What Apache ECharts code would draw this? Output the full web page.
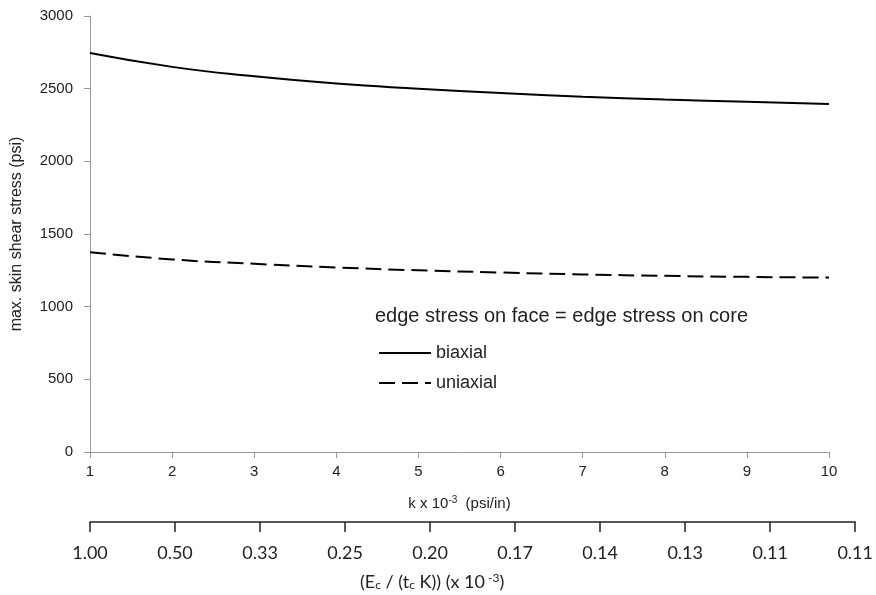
<!DOCTYPE html>
<html><head><meta charset="utf-8">
<script src="https://cdn.jsdelivr.net/npm/echarts@6/dist/echarts.min.js"></script>
<style>html,body{margin:0;padding:0;background:#fff}#c{width:876px;height:595px}</style>
</head><body><div id="c"></div>
<script>
const kValues = [1, 2, 3, 4, 5, 6, 7, 8, 9, 10];
const biaxial = [2745, 2650, 2585, 2535, 2500, 2470, 2445, 2425, 2410, 2395];
const uniaxial = [1375, 1325, 1295, 1270, 1250, 1235, 1222, 1212, 1205, 1200];
const ratioLabels = ["1.00", "0.50", "0.33", "0.25", "0.20", "0.17", "0.14", "0.13", "0.11", "0.11"];

const chart = echarts.init(document.getElementById('c'), null, {renderer: 'canvas'});
const F = '"Liberation Sans", Arial, sans-serif';
const F2 = 'Lato, "Open Sans", sans-serif';
chart.setOption({
  animation: false,
  grid: [
    {left: 90, right: 47, top: 16, bottom: 143},
    {left: 90, right: 16, top: 521, height: 1}
  ],
  xAxis: [
    {type: 'value', gridIndex: 0, min: 1, max: 10, interval: 1,
     axisLine: {lineStyle: {color: '#999', width: 1}},
     axisTick: {show: true, length: 6, lineStyle: {color: '#999'}},
     axisLabel: {color: '#222', fontFamily: F, fontSize: 15, margin: 12},
     splitLine: {show: false},
     name: '{n|k x 10}{s|-3}{n|  (psi/in)}', nameLocation: 'middle', nameGap: 43,
     nameTextStyle: {rich: {
       n: {fontFamily: F, fontSize: 15, color: '#222'},
       s: {fontFamily: F, fontSize: 10, color: '#222', padding: [0, 0, 7, 0]}
     }}},
    {type: 'category', gridIndex: 1, data: ratioLabels, boundaryGap: false, position: 'bottom',
     axisLine: {lineStyle: {color: '#222', width: 1.5}},
     axisTick: {show: true, length: 10, alignWithLabel: true, lineStyle: {color: '#222', width: 1.5}},
     axisLabel: {color: '#222', fontFamily: F2, fontSize: 18, margin: 22, interval: 0}}
  ],
  yAxis: [
    {type: 'value', gridIndex: 0, min: 0, max: 3000, interval: 500,
     axisLine: {show: true, lineStyle: {color: '#999', width: 1}},
     axisTick: {show: true, length: 6, lineStyle: {color: '#999'}},
     axisLabel: {color: '#222', fontFamily: F, fontSize: 15, margin: 17, formatter: v => String(v)},
     splitLine: {show: false},
     name: 'max. skin shear stress (psi)', nameLocation: 'middle', nameGap: 65, nameRotate: 90,
     nameTextStyle: {fontFamily: F, fontSize: 16, color: '#222'}},
    {type: 'value', gridIndex: 1, show: false, min: 0, max: 1}
  ],
  legend: {
    orient: 'vertical', left: 378, top: 344, padding: 0, itemWidth: 52, itemHeight: 14, itemGap: 12,
    itemStyle: {opacity: 0},
    textStyle: {fontFamily: F, fontSize: 18, color: '#222'},
    data: ['biaxial', 'uniaxial']
  },
  graphic: [
    {type: 'text', left: 375, top: 306, style: {text: 'edge stress on face = edge stress on core', font: '20px ' + F, fill: '#222'}},
    {type: 'text', left: 360, top: 572, style: {
      text: '{n|(E}{b|c}{n| / (t}{b|c}{n| K)) (x 10}{s| -3}{n|)}',
      rich: {
        n: {font: '18px ' + F2, fill: '#222'},
        b: {font: '12px ' + F2, fill: '#222', padding: [7, 0, 0, 0]},
        s: {font: '12px ' + F2, fill: '#222', padding: [0, 0, 8, 0]}
      }}}
  ],
  series: [
    {name: 'biaxial', type: 'line', xAxisIndex: 0, yAxisIndex: 0, smooth: true, symbol: 'none',
     lineStyle: {color: '#000', width: 2}, itemStyle: {color: '#000'},
     data: kValues.map((k, i) => [k, biaxial[i]])},
    {name: 'uniaxial', type: 'line', xAxisIndex: 0, yAxisIndex: 0, smooth: true, symbol: 'none',
     lineStyle: {color: '#000', width: 2, type: [16, 7]}, itemStyle: {color: '#000'},
     data: kValues.map((k, i) => [k, uniaxial[i]])}
  ]
});
</script></body></html>
